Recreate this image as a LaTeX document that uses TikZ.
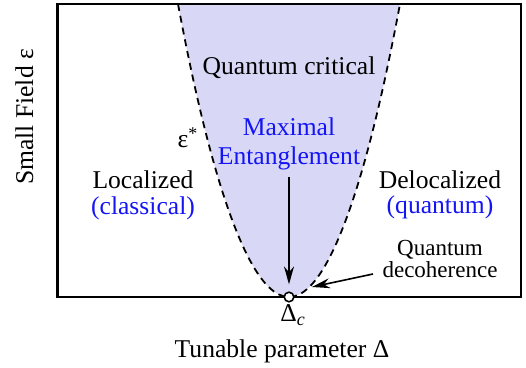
\documentclass[tikz,border=0pt]{standalone}
\usepackage{fontspec}
\setmainfont{Liberation Serif}
\usetikzlibrary{arrows.meta}
\definecolor{regionfill}{RGB}{216,216,246}
\definecolor{textblue}{RGB}{20,20,245}
\begin{document}
\begin{tikzpicture}[x=0.5pt,y=-0.5pt,
  lbl/.style={font=\fontsize{12.8}{15}\selectfont,inner sep=0pt,anchor=base},
  note/.style={font=\fontsize{11.5}{13.5}\selectfont,inner sep=0pt,anchor=base},
  arr/.style={-{Stealth[length=9pt,width=5pt]},line width=0.8pt}]
\useasboundingbox (0,0) rectangle (526,368);
% critical fan
\fill[regionfill] (178,4) parabola bend (289,297) (400,4) -- cycle;
\draw[line width=1.1pt] (57.5,4) rectangle (521,297);
\draw[dash pattern=on 3.5pt off 2.5pt,line width=0.9pt] (178,4) parabola bend (289,297) (400,4);
% labels
\node[lbl] (crit) at (289,75) {Quantum critical};
\node[lbl] (epsstar) at (188,148) {ε\textsuperscript{*}};
\node[lbl,textblue] (maxent) at (289,136) {Maximal};
\node[lbl,textblue] (entangle) at (289,165) {Entanglement};
\node[lbl] (loc) at (143,189) {Localized};
\node[lbl,textblue] (classic) at (143,215) {(classical)};
\node[lbl] (deloc) at (440,189) {Delocalized};
\node[lbl,textblue] (quant) at (440,214) {(quantum)};
\node[note] (qdec) at (440,256) {Quantum};
\node[note] (decoh) at (440,278) {decoherence};
\node[lbl] (deltac) at (293,322) {Δ\textsubscript{\itshape c}};
\node[lbl] (xlabel) at (282,358) {Tunable parameter Δ};
\node[lbl,rotate=90] (ylabel) at (33,117) {Small Field ε};
% critical point and arrows
\node[circle,draw,fill=white,inner sep=0pt,minimum size=4.8pt,line width=0.8pt] (cp) at (289,297) {};
\coordinate (dectip) at (312,287);
\coordinate (dectail) at (373,274);
\draw[arr] ([yshift=-3pt]entangle.south) -- ([yshift=3.5pt]cp.north);
\draw[arr] (dectail) -- (dectip);
\end{tikzpicture}
\end{document}
